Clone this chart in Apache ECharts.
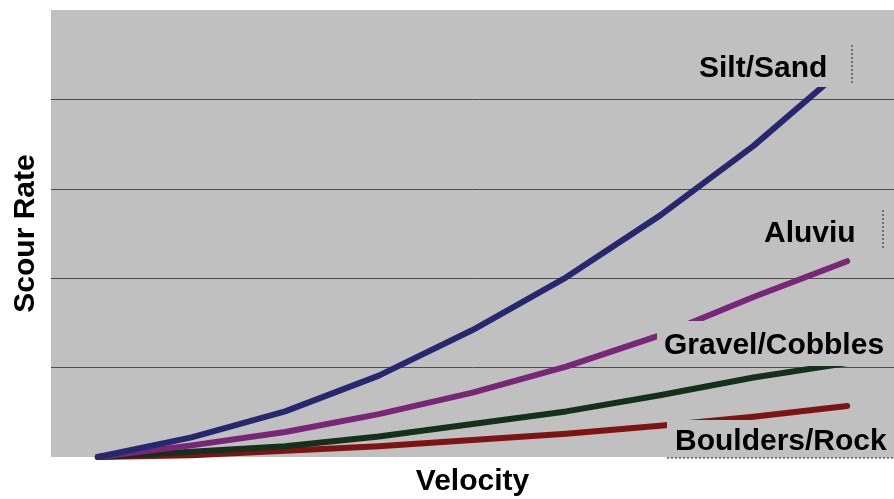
<!DOCTYPE html>
<html>
<head>
<meta charset="utf-8">
<script src="https://cdn.jsdelivr.net/npm/echarts@6/dist/echarts.min.js"></script>
<style>
html,body{margin:0;padding:0;background:#fff;}
#chart{width:894px;height:499px;}
</style>
</head>
<body>
<div id="chart"></div>
<script>
const categories = ['1','2','3','4','5','6','7','8','9'];
const seriesNames = ['Silt/Sand','Aluviu','Gravel/Cobbles','Boulders/Rock'];
const siltSand = [0, 0.22, 0.51, 0.91, 1.42, 2.01, 2.70, 3.48, 4.38];
const aluviu = [0, 0.13, 0.28, 0.48, 0.72, 1.01, 1.36, 1.79, 2.19];
const gravelCobbles = [0, 0.06, 0.12, 0.23, 0.37, 0.51, 0.69, 0.89, 1.05];
const bouldersRock = [0, 0.02, 0.07, 0.12, 0.19, 0.26, 0.35, 0.45, 0.57];
const yTicks = [0, 1, 2, 3, 4, 5];

const colors = ['#27276f', '#782678', '#14301a', '#7e1313'];
const dataList = [siltSand, aluviu, gravelCobbles, bouldersRock];
const FONT = 'bold 30px "Liberation Sans", Arial, sans-serif';
const BG = '#c0c0c0';

const chart = echarts.init(document.getElementById('chart'));

const series = [];
for (let i = dataList.length - 1; i >= 0; i--) {
  series.push({
    name: seriesNames[i],
    type: 'line',
    data: dataList[i],
    symbol: 'none',
    smooth: false,
    clip: true,
    z: 10 - i,
    lineStyle: { color: colors[i], width: 6, cap: 'round', join: 'round' }
  });
}

// label boxes (background-coloured) with text
const labelBoxes = [
  { x: 695, y: 45, w: 157, h: 42, tx: 699, ty: 69, dash: [852, 45, 852, 85] },
  { x: 758, y: 210, w: 125, h: 42, tx: 764, ty: 234, dash: [883, 210, 883, 250] },
  { x: 657, y: 321, w: 237, h: 45, tx: 664, ty: 346, dash: null },
  { x: 667, y: 420, w: 227, h: 38, tx: 675, ty: 442, dash: [667, 458, 894, 458] }
];
const graphic = [];
labelBoxes.forEach((b, i) => {
  graphic.push({
    type: 'rect', z: 100, silent: true,
    shape: { x: b.x, y: b.y, width: b.w, height: b.h },
    style: { fill: BG }
  });
  graphic.push({
    type: 'text', z: 101, silent: true,
    x: b.tx, y: b.ty,
    style: { text: seriesNames[i], font: FONT, fill: '#000', verticalAlign: 'middle', align: 'left' }
  });
  if (b.dash) {
    graphic.push({
      type: 'line', z: 102, silent: true,
      shape: { x1: b.dash[0], y1: b.dash[1], x2: b.dash[2], y2: b.dash[3] },
      style: { stroke: '#222', lineWidth: 1, lineDash: [2, 2] }
    });
  }
});

chart.setOption({
  animation: false,
  backgroundColor: '#ffffff',
  grid: { left: 51, right: 0, top: 10, bottom: 42, show: true, backgroundColor: BG, borderWidth: 0, outerBoundsMode: 'none', containLabel: false },
  xAxis: {
    type: 'category',
    data: categories,
    boundaryGap: true,
    axisLine: { show: false },
    axisTick: { show: false },
    axisLabel: { show: false },
    splitLine: { show: false },
    name: 'Velocity',
    nameLocation: 'middle',
    nameGap: 10,
    nameTextStyle: { fontFamily: '"Liberation Sans", Arial, sans-serif', fontWeight: 'bold', fontSize: 30, color: '#000' }
  },
  yAxis: {
    type: 'value',
    min: yTicks[0],
    max: yTicks[yTicks.length - 1],
    interval: 1,
    axisLine: { show: false },
    axisTick: { show: false },
    axisLabel: { show: false },
    splitLine: { show: true, showMinLine: false, showMaxLine: false, lineStyle: { color: '#4d4d4d', width: 1 } },
    name: 'Scour Rate',
    nameLocation: 'middle',
    nameGap: 10,
    nameTextStyle: { fontFamily: '"Liberation Sans", Arial, sans-serif', fontWeight: 'bold', fontSize: 30, color: '#000' }
  },
  series: series,
  graphic: graphic
});
</script>
</body>
</html>
